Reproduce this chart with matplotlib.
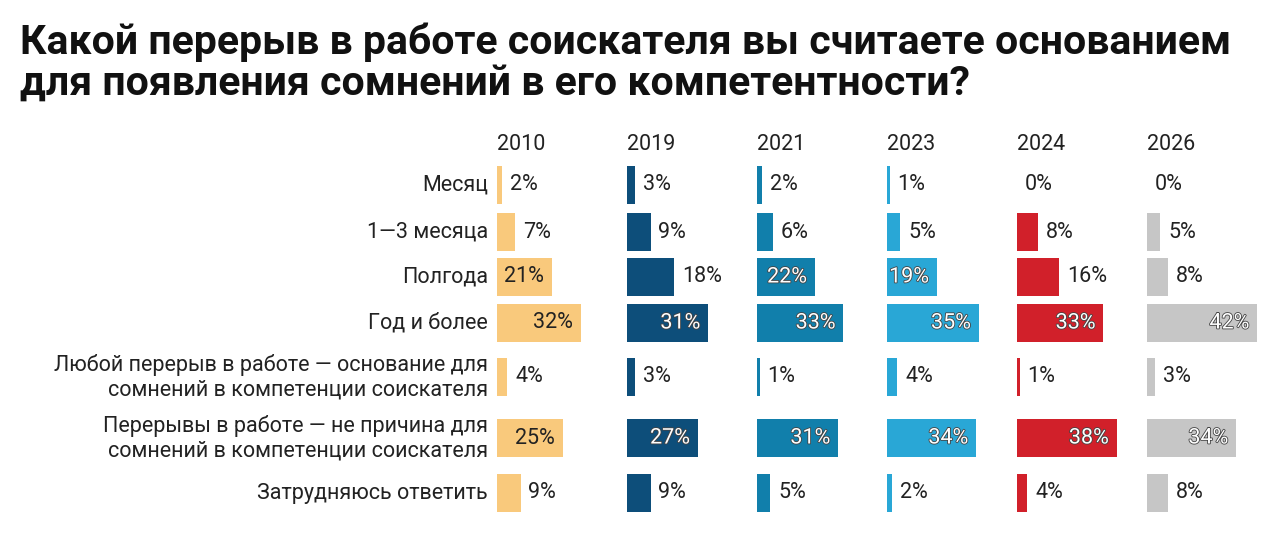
import matplotlib
matplotlib.use("Agg")
import matplotlib.pyplot as plt
import matplotlib.patheffects as pe

plt.rcParams['font.family'] = ['Roboto', 'DejaVu Sans']

title = "Какой перерыв в работе соискателя вы считаете основанием\nдля появления сомнений в его компетентности?"
categories = ["Месяц", "1—3 месяца", "Полгода", "Год и более",
              "Любой перерыв в работе — основание для\nсомнений в компетенции соискателя",
              "Перерывы в работе — не причина для\nсомнений в компетенции соискателя",
              "Затрудняюсь ответить"]
years = ["2010", "2019", "2021", "2023", "2024", "2026"]
v2010 = [2, 7, 21, 32, 4, 25, 9]
v2019 = [3, 9, 18, 31, 3, 27, 9]
v2021 = [2, 6, 22, 33, 1, 31, 5]
v2023 = [1, 5, 19, 35, 4, 34, 2]
v2024 = [0, 8, 16, 33, 1, 38, 4]
v2026 = [0, 5, 8, 42, 3, 34, 8]
series = [v2010, v2019, v2021, v2023, v2024, v2026]
colors = ["#F9C97C", "#0D4E7A", "#117FAB", "#29A7D6", "#D1202A", "#C6C6C6"]

W, H = 1280, 554
fig = plt.figure(figsize=(W/100, H/100), dpi=100)
fig.text(20/W, 1-22/H, title, ha='left', va='top', fontsize=29.5, fontweight='bold',
         color='#111111', linespacing=1.1)

ycent = [185, 232, 277, 323, 377, 438, 493]
top_px, bot_px = 162, 516
xmax = 49.6
fs = 15.5
for i, (yr, vals, col) in enumerate(zip(years, series, colors)):
    left = 497 + 130*i
    ax = fig.add_axes([left/W, 1-bot_px/H, 130/W, (bot_px-top_px)/H])
    ax.set_xlim(0, xmax)
    ax.set_ylim(bot_px, top_px)
    ax.axis('off')
    ax.barh(ycent, vals, height=38, color=col)
    fig.text(left/W, 1-145/H, yr, ha='left', va='center', fontsize=fs, color='#222222')
    for y, v in zip(ycent, vals):
        if v >= 19:
            if i == 0:
                ax.text(v-3, y, f"{v}%", ha='right', va='center', fontsize=fs, color='#222222')
            else:
                t = ax.text(v-3, y, f"{v}%", ha='right', va='center', fontsize=fs, color='white')
                t.set_path_effects([pe.withStroke(linewidth=1.2, foreground='#444444')])
        else:
            ax.text(v+3, y, f"{v}%", ha='left', va='center', fontsize=fs, color='#222222')

for y, c in zip(ycent, categories):
    fig.text(488/W, 1-y/H, c, ha='right', va='center', fontsize=fs, color='#222222',
             linespacing=1.2)

fig.savefig("out.png", dpi=100, facecolor='white')
